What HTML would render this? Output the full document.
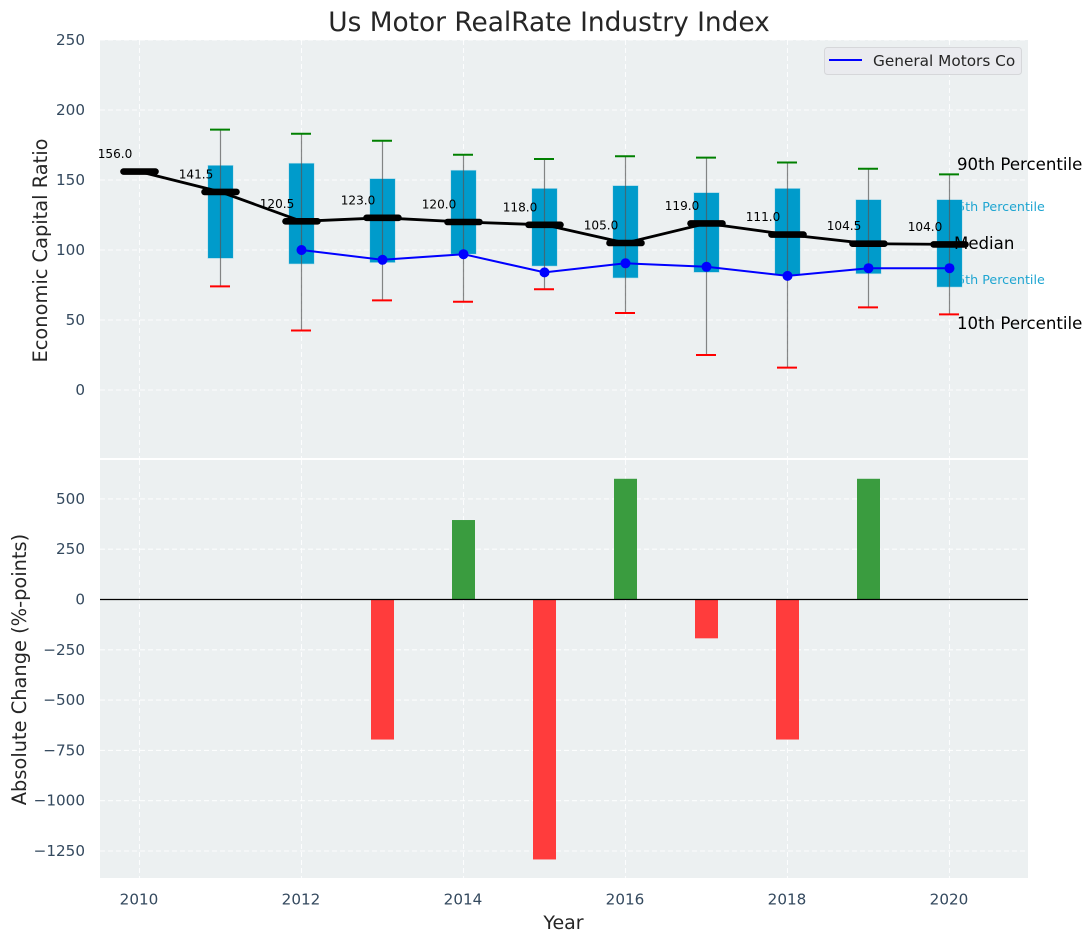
<!DOCTYPE html>
<html>
<head>
<meta charset="utf-8">
<title>Us Motor RealRate Industry Index</title>
<style>
html,body{margin:0;padding:0;background:#fff;width:1092px;height:942px;overflow:hidden}
svg{display:block;font-family:"DejaVu Sans","Liberation Sans",sans-serif}
</style>
</head>
<body>
<svg id="chart" xmlns="http://www.w3.org/2000/svg" width="1092" height="942" viewBox="0 0 1092 942">
  <rect x="0" y="0" width="1092" height="942" fill="#ffffff"/>
  <rect x="100" y="40" width="928" height="418" fill="#ecf0f1"/>
  <rect x="100" y="460" width="928" height="418" fill="#ecf0f1"/>
  <g id="grid"></g>
  <g id="axes"></g>
  <g id="bottom-marks"></g>
  <line x1="100" x2="1028" y1="599.5" y2="599.5" stroke="#000" stroke-width="1.3"/>
  <g id="percentile-back">
    <text x="949" y="211" font-size="12.7" fill="#1ea5d1">75th Percentile</text>
    <text x="949" y="284" font-size="12.7" fill="#1ea5d1">25th Percentile</text>
  </g>
  <g id="top-marks"></g>
  <g>
    <text x="957" y="170" font-size="16.6" fill="#000">90th Percentile</text>
    <text x="954" y="249" font-size="16.6" fill="#000">Median</text>
    <text x="957" y="329" font-size="16.6" fill="#000">10th Percentile</text>
  </g>
  <g>
    <rect x="824.5" y="47.5" width="197" height="27" rx="3" fill="#eaebef" stroke="#d6d7da" stroke-width="1"/>
    <line x1="829" x2="862" y1="60" y2="60" stroke="#0000ff" stroke-width="2"/>
    <text x="873" y="66" font-size="15.3" fill="#262626">General Motors Co</text>
  </g>
  <text x="549" y="31" text-anchor="middle" font-size="26.4" fill="#262626">Us Motor RealRate Industry Index</text>
  <text transform="translate(47,250.5) rotate(-90)" text-anchor="middle" font-size="19.4" fill="#262626">Economic Capital Ratio</text>
  <text transform="translate(26,669.5) rotate(-90)" text-anchor="middle" font-size="19.4" fill="#262626">Absolute Change (%-points)</text>
  <text x="563.5" y="929" text-anchor="middle" font-size="19" fill="#262626">Year</text>
</svg>
<script>
const years = [2010, 2011, 2012, 2013, 2014, 2015, 2016, 2017, 2018, 2019, 2020];
const p90 = [null, 186, 183, 178, 168, 165, 167, 166, 162.5, 158, 154];
const p75 = [null, 160.5, 162, 151, 157, 144, 146, 141, 144, 136, 136];
const median = [156, 141.5, 120.5, 123, 120, 118, 105, 119, 111, 104.5, 104];
const p25 = [null, 94, 90, 91, 97, 88.5, 80, 84, 82, 83, 73.5];
const p10 = [null, 74, 42.5, 64, 63, 72, 55, 25, 16, 59, 54];
const gm = [null, null, 100, 93, 97, 84, 90.5, 88, 81.5, 87, 87];
const change = [null, null, null, -696, 395, -1292, 600, -193, -696, 600, null];
const topTicks = [0, 50, 100, 150, 200, 250];
const bottomTicks = [500, 250, 0, -250, -500, -750, -1000, -1250];
const xTicks = [2010, 2012, 2014, 2016, 2018, 2020];

const NS = 'http://www.w3.org/2000/svg';
const xScale = v => 139.5 + (v - 2010) * 81;
const yTop = v => 390 - v * 1.4;
const yBottom = v => 599.5 - v * 0.2012;

function make(tag, attrs, parent) {
  const el = document.createElementNS(NS, tag);
  for (const k in attrs) el.setAttribute(k, attrs[k]);
  parent.appendChild(el);
  return el;
}
const grid = document.getElementById('grid');
const axes = document.getElementById('axes');
const topMarks = document.getElementById('top-marks');
const bottomMarks = document.getElementById('bottom-marks');
const gridStyle = {stroke: '#ffffff', 'stroke-width': 1.1, 'stroke-dasharray': '5 3', 'stroke-opacity': 0.85};
const tickFill = '#34495e';

topTicks.forEach(t => {
  const l = make('line', Object.assign({x1: 100, x2: 1028, y1: yTop(t), y2: yTop(t)}, gridStyle), grid);
  
  
  const s = make('text', {x: 85, y: yTop(t) + 5, 'text-anchor': 'end', 'font-size': 15.2, fill: tickFill}, axes);
  s.textContent = String(t);
  
  
});
bottomTicks.forEach(t => {
  const l = make('line', Object.assign({x1: 100, x2: 1028, y1: yBottom(t), y2: yBottom(t)}, gridStyle), grid);
  
  
  const s = make('text', {x: 85, y: yBottom(t) + 5, 'text-anchor': 'end', 'font-size': 15.2, fill: tickFill}, axes);
  s.textContent = String(t).replace('-', '\u2212');
  
  
});
xTicks.forEach(t => {
  const a = make('line', Object.assign({x1: xScale(t), x2: xScale(t), y1: 40, y2: 458}, gridStyle), grid);
  
  
  const b = make('line', Object.assign({x1: xScale(t), x2: xScale(t), y1: 460, y2: 878}, gridStyle), grid);
  
  
  const s = make('text', {x: xScale(t) - 0.5, y: 904.5, 'text-anchor': 'middle', 'font-size': 15.2, fill: tickFill}, axes);
  s.textContent = String(t);
  
  
});

years.forEach((yr, i) => {
  if (change[i] === null) return;
  const v = change[i];
  const y1 = yBottom(Math.max(v, 0));
  const y2 = yBottom(Math.min(v, 0));
  const r = make('rect', {x: xScale(yr) - 11.5, y: y1, width: 23, height: y2 - y1, fill: v >= 0 ? '#3a9c3f' : '#ff3c3c'}, bottomMarks);
  
  
});

years.forEach((yr, i) => {
  if (p75[i] === null) return;
  const box = make('rect', {x: xScale(yr) - 12.75, y: yTop(p75[i]), width: 25.5, height: yTop(p25[i]) - yTop(p75[i]), fill: '#009bcb', stroke: '#b9dfea', 'stroke-width': 0.6}, topMarks);
  
  
  const w = make('line', {x1: xScale(yr), x2: xScale(yr), y1: yTop(p90[i]), y2: yTop(p10[i]), stroke: '#555', 'stroke-width': 1.2, 'stroke-opacity': 0.7}, topMarks);
  
  
  const hi = make('line', {x1: xScale(yr) - 10.5, x2: xScale(yr) + 9.5, y1: yTop(p90[i]), y2: yTop(p90[i]), stroke: '#008000', 'stroke-width': 2}, topMarks);
  
  
  const lo = make('line', {x1: xScale(yr) - 10.5, x2: xScale(yr) + 9.5, y1: yTop(p10[i]), y2: yTop(p10[i]), stroke: '#ff0000', 'stroke-width': 2}, topMarks);
  
  
});

const gmPoints = years.map((yr, i) => gm[i] === null ? null : xScale(yr) + ',' + yTop(gm[i])).filter(Boolean).join(' ');
const gmLine = make('polyline', {points: gmPoints, fill: 'none', stroke: '#0000ff', 'stroke-width': 2}, topMarks);


years.forEach((yr, i) => {
  if (gm[i] === null) return;
  const c = make('circle', {cx: xScale(yr), cy: yTop(gm[i]), r: 5, fill: '#0000ff'}, topMarks);
  
  
});

const medPoints = years.map((yr, i) => xScale(yr) + ',' + yTop(median[i])).join(' ');
const medLine = make('polyline', {points: medPoints, fill: 'none', stroke: '#000', 'stroke-width': 2.8}, topMarks);


years.forEach((yr, i) => {
  const d = make('line', {x1: xScale(yr) - 16, x2: xScale(yr) + 16, y1: yTop(median[i]), y2: yTop(median[i]), stroke: '#000', 'stroke-width': 6.6, 'stroke-linecap': 'round'}, topMarks);
  
  
  const s = make('text', {x: xScale(yr) - 24.5, y: yTop(median[i]) - 13.5, 'text-anchor': 'middle', 'font-size': 12.1, fill: '#000'}, topMarks);
  s.textContent = median[i].toFixed(1);
  
  
});
</script>
</body>
</html>
